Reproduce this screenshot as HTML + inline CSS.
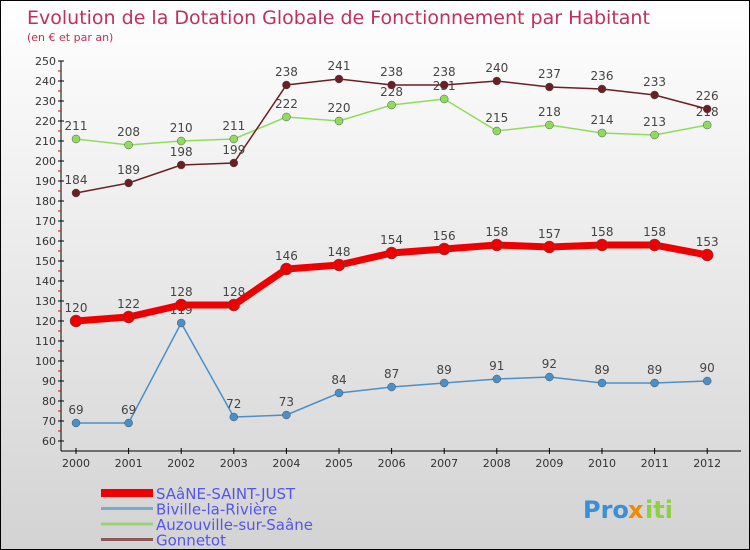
<!DOCTYPE html>
<html><head><meta charset="utf-8"><style>
body{margin:0}
#c{width:750px;height:550px;position:relative;overflow:hidden;box-sizing:border-box;border:1px solid #000;background:linear-gradient(#fff,#d3d3d3);font-family:"DejaVu Sans","Liberation Sans",sans-serif}
</style></head><body>
<div id="c">
<svg id="s" width="750" height="550"></svg>
</div>
<script>
const years=["2000","2001","2002","2003","2004","2005","2006","2007","2008","2009","2010","2011","2012"];
const saane=[120,122,128,128,146,148,154,156,158,157,158,158,153];
const biville=[69,69,119,72,73,84,87,89,91,92,89,89,90];
const auzou=[211,208,210,211,222,220,228,231,215,218,214,213,218];
const gonnetot=[184,189,198,199,238,241,238,238,240,237,236,233,226];
const yTicks=[60,70,80,90,100,110,120,130,140,150,160,170,180,190,200,210,220,230,240,250];
const NS="http://www.w3.org/2000/svg";const s=document.getElementById('s');
function x(i){return 75+i*52.6}
function y(v){return 440-(v-60)*2}
function el(t,a,p){const e=document.createElementNS(NS,t);for(const k in a)e.setAttribute(k,a[k]);(p||s).appendChild(e);return e}
function tx(str,a,name){const e=el('text',a);e.textContent=str;return e}
tx("Evolution de la Dotation Globale de Fonctionnement par Habitant",{x:26,y:23,'font-size':19,fill:'#c0305a'},'chart-title');
tx("(en € et par an)",{x:26,y:40,'font-size':11,fill:'#c0305a'},'chart-subtitle');
// axes
let a=el('line',{x1:60,y1:60,x2:60,y2:450,stroke:'#000'});
a=el('line',{x1:60,y1:450,x2:740,y2:450,stroke:'#000'});
yTicks.forEach((v,i)=>{el('line',{x1:57,y1:y(v),x2:63,y2:y(v),stroke:'#000'});
 if(i<yTicks.length-1)el('line',{x1:57,y1:y(v+5),x2:60,y2:y(v+5),stroke:'#e00'});
 tx(String(v),{x:55,y:y(v)+4,'font-size':11,fill:'#333','text-anchor':'end'},'y-tick-label');});
years.forEach((yr,i)=>{el('line',{x1:x(i),y1:447,x2:x(i),y2:453,stroke:'#000'});
 tx(yr,{x:x(i),y:466,'font-size':11,fill:'#333','text-anchor':'middle'},'x-tick-label');});
function series(d,col,w,r,name){
 const p=el('polyline',{points:d.map((v,i)=>x(i)+','+y(v)).join(' '),fill:'none',stroke:col,'stroke-width':w});
 
 d.forEach((v,i)=>{const c=el('circle',{cx:x(i),cy:y(v),r:r,fill:col,stroke:'#555','stroke-width':0.5});
  
  tx(String(v),{x:x(i),y:y(v)-9,'font-size':12,fill:'#444','text-anchor':'middle'},name+'-value');});
}
series(auzou,'#8fdc5c',1.5,4,'auzouville');
series(gonnetot,'#6b1e24',1.5,4,'gonnetot');
series(biville,'#4a90c8',1.5,4,'biville');
series(saane,'#ee0000',7,6,'saane');
const leg=[["SAâNE-SAINT-JUST",'#ee0000',8],["Biville-la-Rivière",'#7aaad0',3],["Auzouville-sur-Saâne",'#9ad27a',3],["Gonnetot",'#8a5a5a',3]];
leg.forEach((l,i)=>{const yy=492+i*15.5;
 el('line',{x1:100,y1:yy,x2:152,y2:yy,stroke:l[1],'stroke-width':l[2]});
 tx(l[0],{x:155,y:yy+6,'font-size':15,fill:'#5555ee'},'legend-entry');});
tx("Pro",{x:582,y:517,'font-size':24,'font-weight':'bold',fill:'#3a8fd8'},'logo');
tx("x",{x:627,y:517,'font-size':24,'font-weight':'bold',fill:'#f08a00'},'logo-x');
tx("iti",{x:644,y:517,'font-size':24,'font-weight':'bold',fill:'#8fd040'},'logo-iti');
</script>
</body></html>
